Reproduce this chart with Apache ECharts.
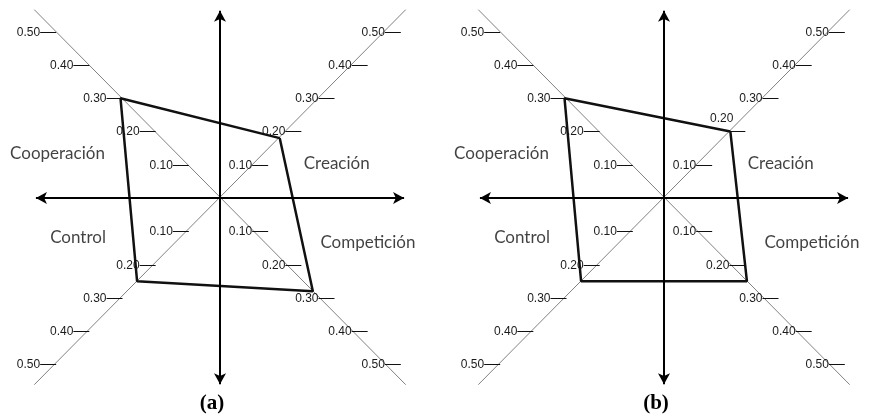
<!DOCTYPE html>
<html>
<head>
<meta charset="utf-8">
<script src="https://cdn.jsdelivr.net/npm/echarts@6/dist/echarts.min.js"></script>
<style>
  html, body { margin: 0; padding: 0; background: #fff; }
  #main { width: 869px; height: 417px; }
</style>
</head>
<body>
<div id="main"></div>
<script>
// panels and the four dimensions (quadrant I, II, III, IV)
const panels = ['(a)', '(b)'];
const dims = ['Creación', 'Cooperación', 'Control', 'Competición'];
const tickValues = [0.1, 0.2, 0.3, 0.4, 0.5];
const tickLabels = ['0.10', '0.20', '0.30', '0.40', '0.50'];
// values, same order as dims
const valuesA = [0.18, 0.30, 0.25, 0.28];
const valuesB = [0.20, 0.30, 0.25, 0.25];
const panelValues = [valuesA, valuesB];

// layout only
const signs = [[1, 1], [-1, 1], [-1, -1], [1, -1]];
const dimLabelPos = [[0.352, 0.105], [-0.49, 0.135], [-0.428, -0.12], [0.446, -0.133]];
const gridLefts = [21, 465];
const titleX = [212, 656];

const chart = echarts.init(document.getElementById('main'));

const grid = [], xAxis = [], yAxis = [], series = [], graphic = [];

panels.forEach(function (p, i) {
  grid.push({ left: gridLefts[i], top: 5, width: 398, height: 386 });
  xAxis.push({ gridIndex: i, type: 'value', min: -0.6, max: 0.6, show: false });
  yAxis.push({ gridIndex: i, type: 'value', min: -0.58, max: 0.58, show: false });

  // the two gray diagonals
  [[[-0.56, 0.566], [0.56, -0.561]], [[-0.56, -0.561], [0.56, 0.566]]].forEach(function (seg) {
    series.push({
      type: 'line', xAxisIndex: i, yAxisIndex: i, data: seg, symbol: 'none', silent: true,
      lineStyle: { color: '#808080', width: 1 }, z: 1
    });
  });

  // black arrows
  series.push({
    type: 'line', xAxisIndex: i, yAxisIndex: i, data: [], symbol: 'none', silent: true, z: 3,
    markLine: {
      silent: true, symbol: ['arrow', 'arrow'], symbolSize: [9, 11], animation: false,
      label: { show: false },
      lineStyle: { color: '#000', width: 2, type: 'solid' },
      emphasis: { disabled: true },
      data: [
        [{ coord: [-0.555, 0] }, { coord: [0.555, 0] }],
        [{ coord: [0, 0.563] }, { coord: [0, -0.56] }]
      ]
    }
  });

  // ticks and tick labels along each diagonal
  const tickData = [];
  dims.forEach(function (d, k) {
    tickValues.forEach(function (t, j) { tickData.push([k, t, j]); });
  });
  series.push({
    type: 'custom', xAxisIndex: i, yAxisIndex: i, data: tickData, silent: true, z: 2,
    renderItem: function (params, api) {
      const k = api.value(0), v = api.value(1), j = api.value(2);
      const s = signs[k];
      const pt = api.coord([s[0] * v, s[1] * v]);
      const y = Math.round(pt[1]) + 0.5;
      const left = s[0] < 0;
      const x1 = left ? pt[0] - 14 : pt[0] - 1;
      const x2 = left ? pt[0] + 2 : pt[0] + 15;
      let tx = left ? pt[0] - 14 : pt[0] - 1;
      let ty = y;
      // panel (b): the 0.20 label of Creación sits above its tick
      if (i === 1 && k === 0 && j === 1) { tx = pt[0] + 3; ty = y - 13; }
      return {
        type: 'group',
        children: [
          { type: 'line', shape: { x1: x1, y1: y, x2: x2, y2: y }, style: { stroke: '#111', lineWidth: 1 } },
          { type: 'text', x: tx, y: ty, style: {
              text: tickLabels[j], textAlign: 'right', textVerticalAlign: 'middle',
              fill: '#1a1a1a', font: '12px "Liberation Sans", Arial, sans-serif' } }
        ]
      };
    }
  });

  // the profile polygon
  const vals = panelValues[i];
  const poly = vals.map(function (v, k) { return [signs[k][0] * v, signs[k][1] * v]; });
  poly.push(poly[0]);
  series.push({
    type: 'line', xAxisIndex: i, yAxisIndex: i, data: poly, symbol: 'none', silent: true, z: 4,
    lineStyle: { color: '#111', width: 2.5 }
  });

  // dimension names
  series.push({
    type: 'scatter', xAxisIndex: i, yAxisIndex: i, symbolSize: 1, silent: true, z: 5,
    itemStyle: { color: 'transparent' },
    data: dims.map(function (d, k) { return { name: d, value: dimLabelPos[k] }; }),
    label: {
      show: true, position: 'inside', formatter: '{b}', color: '#111',
      fontFamily: 'Lato', fontSize: 17
    }
  });

  graphic.push({
    type: 'text', x: titleX[i], y: 404, silent: true,
    style: { text: p, textAlign: 'center', textVerticalAlign: 'middle', fill: '#000',
      font: 'bold 21px "Liberation Serif", "Times New Roman", serif' }
  });
});

chart.setOption({
  animation: false,
  grid: grid,
  xAxis: xAxis,
  yAxis: yAxis,
  series: series,
  graphic: graphic
});
window.addEventListener('resize', function () { chart.resize(); });
</script>
</body>
</html>
